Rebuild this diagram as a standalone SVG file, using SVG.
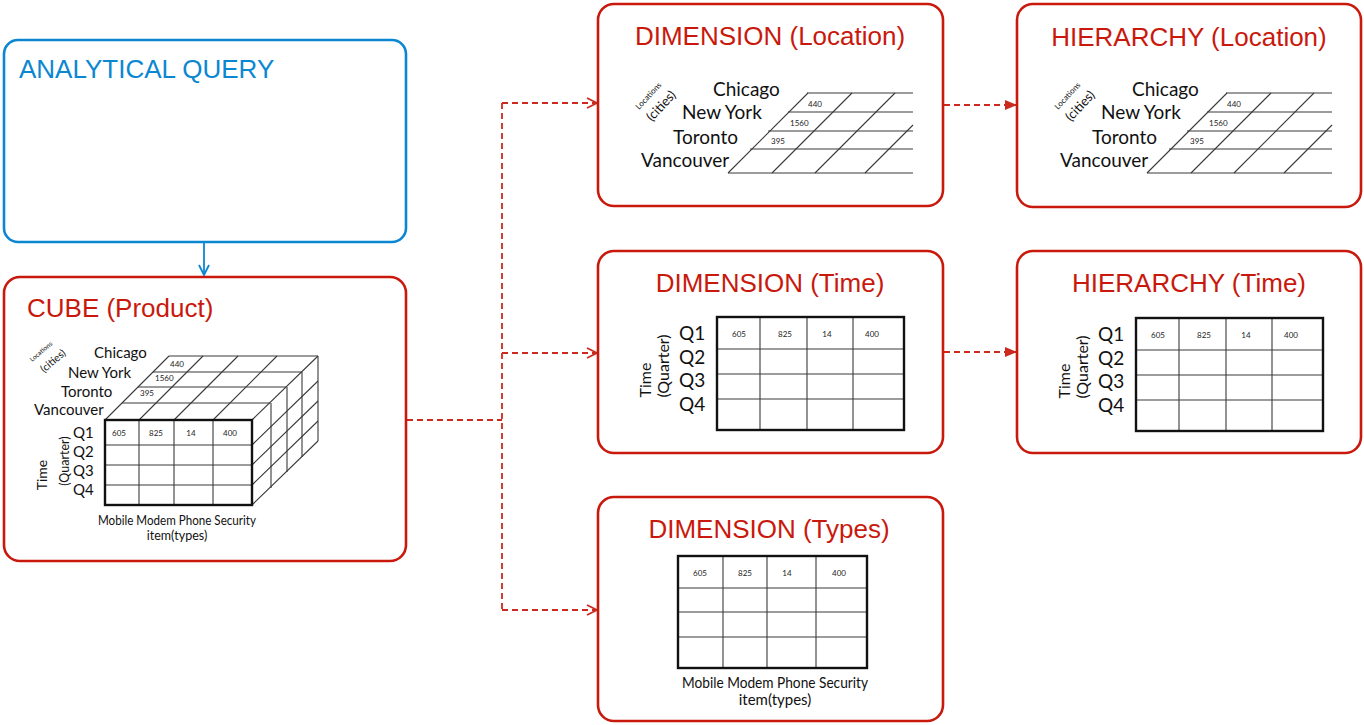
<svg xmlns="http://www.w3.org/2000/svg" width="1364" height="725" viewBox="0 0 1364 725">
<style>
.bg{fill:#ffffff}
.boxr{fill:#ffffff;stroke:#c9190d;stroke-width:2.6}
.boxb{fill:#ffffff;stroke:#0b87d2;stroke-width:2.6}
.title{font-family:"Liberation Sans",Arial,sans-serif;font-size:26px;fill:#c9190d}
.titleb{font-family:"Liberation Sans",Arial,sans-serif;font-size:26px;fill:#0b87d2}
.lbl{font-family:Lato,"Liberation Sans",sans-serif;fill:#111111}
.num{font-family:Lato,"Liberation Sans",sans-serif;font-size:8px;fill:#222222}
.grid{stroke:#3a3a3a;stroke-width:1.1;fill:none}
.thick{stroke:#111111;stroke-width:2.4;fill:none}
.conn{stroke:#cc2a1e;stroke-width:1.8;stroke-dasharray:6 4;fill:none}
.connb{stroke:#0b87d2;stroke-width:1.8;fill:none}
</style>
<defs>
<marker id="openRed" viewBox="0 0 12 12" refX="11" refY="6" markerWidth="12" markerHeight="12" markerUnits="userSpaceOnUse" orient="auto">
<path d="M1,1 L11,6 L1,11" fill="none" stroke="#cc2a1e" stroke-width="1.8" stroke-dasharray="none"/>
</marker>
<marker id="fillRed" viewBox="0 0 12 12" refX="11" refY="6" markerWidth="12" markerHeight="12" markerUnits="userSpaceOnUse" orient="auto">
<path d="M0,1 L12,6 L0,11 Z" fill="#cc2a1e" stroke="none"/>
</marker>
<marker id="openBlue" viewBox="0 0 12 12" refX="11" refY="6" markerWidth="12" markerHeight="12" markerUnits="userSpaceOnUse" orient="auto">
<path d="M1,1 L11,6 L1,11" fill="none" stroke="#0b87d2" stroke-width="1.8"/>
</marker>
</defs>
<rect class="bg" x="0" y="0" width="1364" height="725"/>

<g id="connectors">
<path class="connb" d="M204,243 V275" marker-end="url(#openBlue)"/>
<path class="conn" d="M407,420 H502"/>
<path class="conn" d="M502,103 V610"/>
<path class="conn" d="M502,103 H597" marker-end="url(#openRed)"/>
<path class="conn" d="M502,353 H597" marker-end="url(#openRed)"/>
<path class="conn" d="M502,610 H597" marker-end="url(#openRed)"/>
<path class="conn" d="M944,105 H1016" marker-end="url(#fillRed)"/>
<path class="conn" d="M944,352 H1016" marker-end="url(#fillRed)"/>
</g>

<g id="analytical-query">
<rect class="boxb" x="4" y="40" width="402" height="202" rx="14"/>
<text class="titleb" x="19" y="78">ANALYTICAL QUERY</text>
</g>

<g id="cube-product">
<rect class="boxr" x="4" y="277" width="402" height="284" rx="16"/>
<text class="title" x="27" y="317">CUBE (Product)</text>
<text class="lbl" font-size="6.5" transform="translate(32,362) rotate(-40)">Locations</text>
<text class="lbl" font-size="10.5" transform="translate(44,373) rotate(-40)">(cities)</text>
<text class="lbl" font-size="15" x="94" y="358">Chicago</text>
<text class="lbl" font-size="15" x="68" y="378">New York</text>
<text class="lbl" font-size="15" x="61" y="397">Toronto</text>
<text class="lbl" font-size="15" x="34" y="415">Vancouver</text>
<g class="grid">
<path d="M122,403 H270 M138,387 H286 M153,372 H302 M169,356 H318"/>
<path d="M105,420 L169,356 M139,420 L203,356 M174,420 L238,356 M213,420 L277,356 M252,420 L318,356"/>
<path d="M271,403 V488 M287,387 V472 M302,372 V457 M318,356 V441"/>
<path d="M252,445 L318,381 M252,465 L318,401 M252,485 L318,421 M252,505 L318,441"/>
<path d="M105,445 H252 M105,465 H252 M105,485 H252 M139,420 V505 M174,420 V505 M213,420 V505"/>
</g>
<rect class="thick" x="105" y="420" width="147" height="85"/>
<text class="num" x="170" y="367">440</text>
<text class="num" x="155" y="381">1560</text>
<text class="num" x="140" y="396">395</text>
<text class="num" text-anchor="middle" font-size="7.5" x="119" y="436">605</text>
<text class="num" text-anchor="middle" font-size="7.5" x="156" y="436">825</text>
<text class="num" text-anchor="middle" font-size="7.5" x="191" y="436">14</text>
<text class="num" text-anchor="middle" font-size="7.5" x="230" y="436">400</text>
<text class="lbl" font-size="15" x="73" y="438">Q1</text>
<text class="lbl" font-size="15" x="73" y="457">Q2</text>
<text class="lbl" font-size="15" x="73" y="476">Q3</text>
<text class="lbl" font-size="15" x="73" y="495">Q4</text>
<text class="lbl" font-size="14" text-anchor="middle" transform="translate(47,475) rotate(-90)">Time</text>
<text class="lbl" font-size="12.5" text-anchor="middle" transform="translate(69,461) rotate(-90)">(Quarter)</text>
<text class="lbl" font-size="12.5" text-anchor="middle" x="177" y="525" textLength="158" lengthAdjust="spacingAndGlyphs">Mobile Modem Phone Security</text>
<text class="lbl" font-size="12.5" text-anchor="middle" x="177" y="540">item(types)</text>
</g>

<g id="dimension-location">
<rect class="boxr" x="598" y="4" width="345" height="202" rx="16"/>
<text class="title" text-anchor="middle" x="770" y="45">DIMENSION (Location)</text>
<text class="lbl" font-size="8" transform="translate(639,110) rotate(-47)">Locations</text>
<text class="lbl" font-size="13" transform="translate(652,122) rotate(-47)">(cities)</text>
<text class="lbl" font-size="19" x="713" y="96">Chicago</text>
<text class="lbl" font-size="19" x="682" y="119">New York</text>
<text class="lbl" font-size="19" x="673" y="144">Toronto</text>
<text class="lbl" font-size="19" x="641" y="167">Vancouver</text>
<g class="grid">
<path d="M807,93 H913 M788,112 H913 M768,131 H913 M750,149 H913 M728,173 H913"/>
<path d="M728,173 L808,93 M772,173 L852,93 M815,173 L895,93 M865,173 L913,125"/>
</g>
<text class="num" font-size="9" x="808" y="107">440</text>
<text class="num" font-size="9" x="790" y="126">1560</text>
<text class="num" font-size="9" x="771" y="144">395</text>
</g>

<g id="hierarchy-location">
<rect class="boxr" x="1017" y="4" width="344" height="203" rx="16"/>
<text class="title" text-anchor="middle" x="1189" y="46">HIERARCHY (Location)</text>
<g transform="translate(419,0)">
<text class="lbl" font-size="8" transform="translate(639,110) rotate(-47)">Locations</text>
<text class="lbl" font-size="13" transform="translate(652,122) rotate(-47)">(cities)</text>
<text class="lbl" font-size="19" x="713" y="96">Chicago</text>
<text class="lbl" font-size="19" x="682" y="119">New York</text>
<text class="lbl" font-size="19" x="673" y="144">Toronto</text>
<text class="lbl" font-size="19" x="641" y="167">Vancouver</text>
<g class="grid">
<path d="M807,93 H913 M788,112 H913 M768,131 H913 M750,149 H913 M728,173 H913"/>
<path d="M728,173 L808,93 M772,173 L852,93 M815,173 L895,93 M865,173 L913,125"/>
</g>
<text class="num" font-size="9" x="808" y="107">440</text>
<text class="num" font-size="9" x="790" y="126">1560</text>
<text class="num" font-size="9" x="771" y="144">395</text>
</g>
</g>

<g id="dimension-time">
<rect class="boxr" x="598" y="251" width="345" height="202" rx="16"/>
<text class="title" text-anchor="middle" x="770" y="292">DIMENSION (Time)</text>
<g class="grid">
<path d="M717,349 H904 M717,374 H904 M717,399 H904 M760,317 V430 M807,317 V430 M853,317 V430"/>
</g>
<rect class="thick" x="717" y="317" width="187" height="113"/>
<text class="num" text-anchor="middle" font-size="9" x="739" y="337">605</text>
<text class="num" text-anchor="middle" font-size="9" x="785" y="337">825</text>
<text class="num" text-anchor="middle" font-size="9" x="827" y="337">14</text>
<text class="num" text-anchor="middle" font-size="9" x="872" y="337">400</text>
<text class="lbl" font-size="19" x="679" y="340">Q1</text>
<text class="lbl" font-size="19" x="679" y="364">Q2</text>
<text class="lbl" font-size="19" x="679" y="387">Q3</text>
<text class="lbl" font-size="19" x="679" y="411">Q4</text>
<text class="lbl" font-size="16" text-anchor="middle" transform="translate(651,380) rotate(-90)">Time</text>
<text class="lbl" font-size="16" text-anchor="middle" transform="translate(669,366) rotate(-90)">(Quarter)</text>
</g>

<g id="hierarchy-time">
<rect class="boxr" x="1017" y="251" width="344" height="202" rx="16"/>
<text class="title" text-anchor="middle" x="1189" y="292">HIERARCHY (Time)</text>
<g transform="translate(419,1)">
<g class="grid">
<path d="M717,349 H904 M717,374 H904 M717,399 H904 M760,317 V430 M807,317 V430 M853,317 V430"/>
</g>
<rect class="thick" x="717" y="317" width="187" height="113"/>
<text class="num" text-anchor="middle" font-size="9" x="739" y="337">605</text>
<text class="num" text-anchor="middle" font-size="9" x="785" y="337">825</text>
<text class="num" text-anchor="middle" font-size="9" x="827" y="337">14</text>
<text class="num" text-anchor="middle" font-size="9" x="872" y="337">400</text>
<text class="lbl" font-size="19" x="679" y="340">Q1</text>
<text class="lbl" font-size="19" x="679" y="364">Q2</text>
<text class="lbl" font-size="19" x="679" y="387">Q3</text>
<text class="lbl" font-size="19" x="679" y="411">Q4</text>
<text class="lbl" font-size="16" text-anchor="middle" transform="translate(651,380) rotate(-90)">Time</text>
<text class="lbl" font-size="16" text-anchor="middle" transform="translate(669,366) rotate(-90)">(Quarter)</text>
</g>
</g>

<g id="dimension-types">
<rect class="boxr" x="598" y="497" width="345" height="224" rx="16"/>
<text class="title" text-anchor="middle" x="769" y="538">DIMENSION (Types)</text>
<g class="grid">
<path d="M678,588 H867 M678,612 H867 M678,637 H867 M723,556 V668 M767,556 V668 M816,556 V668"/>
</g>
<rect class="thick" x="678" y="556" width="189" height="112"/>
<text class="num" text-anchor="middle" font-size="9" x="700" y="576">605</text>
<text class="num" text-anchor="middle" font-size="9" x="745" y="576">825</text>
<text class="num" text-anchor="middle" font-size="9" x="787" y="576">14</text>
<text class="num" text-anchor="middle" font-size="9" x="839" y="576">400</text>
<text class="lbl" font-size="15" text-anchor="middle" x="775" y="688" textLength="186" lengthAdjust="spacingAndGlyphs">Mobile Modem Phone Security</text>
<text class="lbl" font-size="15" text-anchor="middle" x="775" y="705">item(types)</text>
</g>
</svg>
